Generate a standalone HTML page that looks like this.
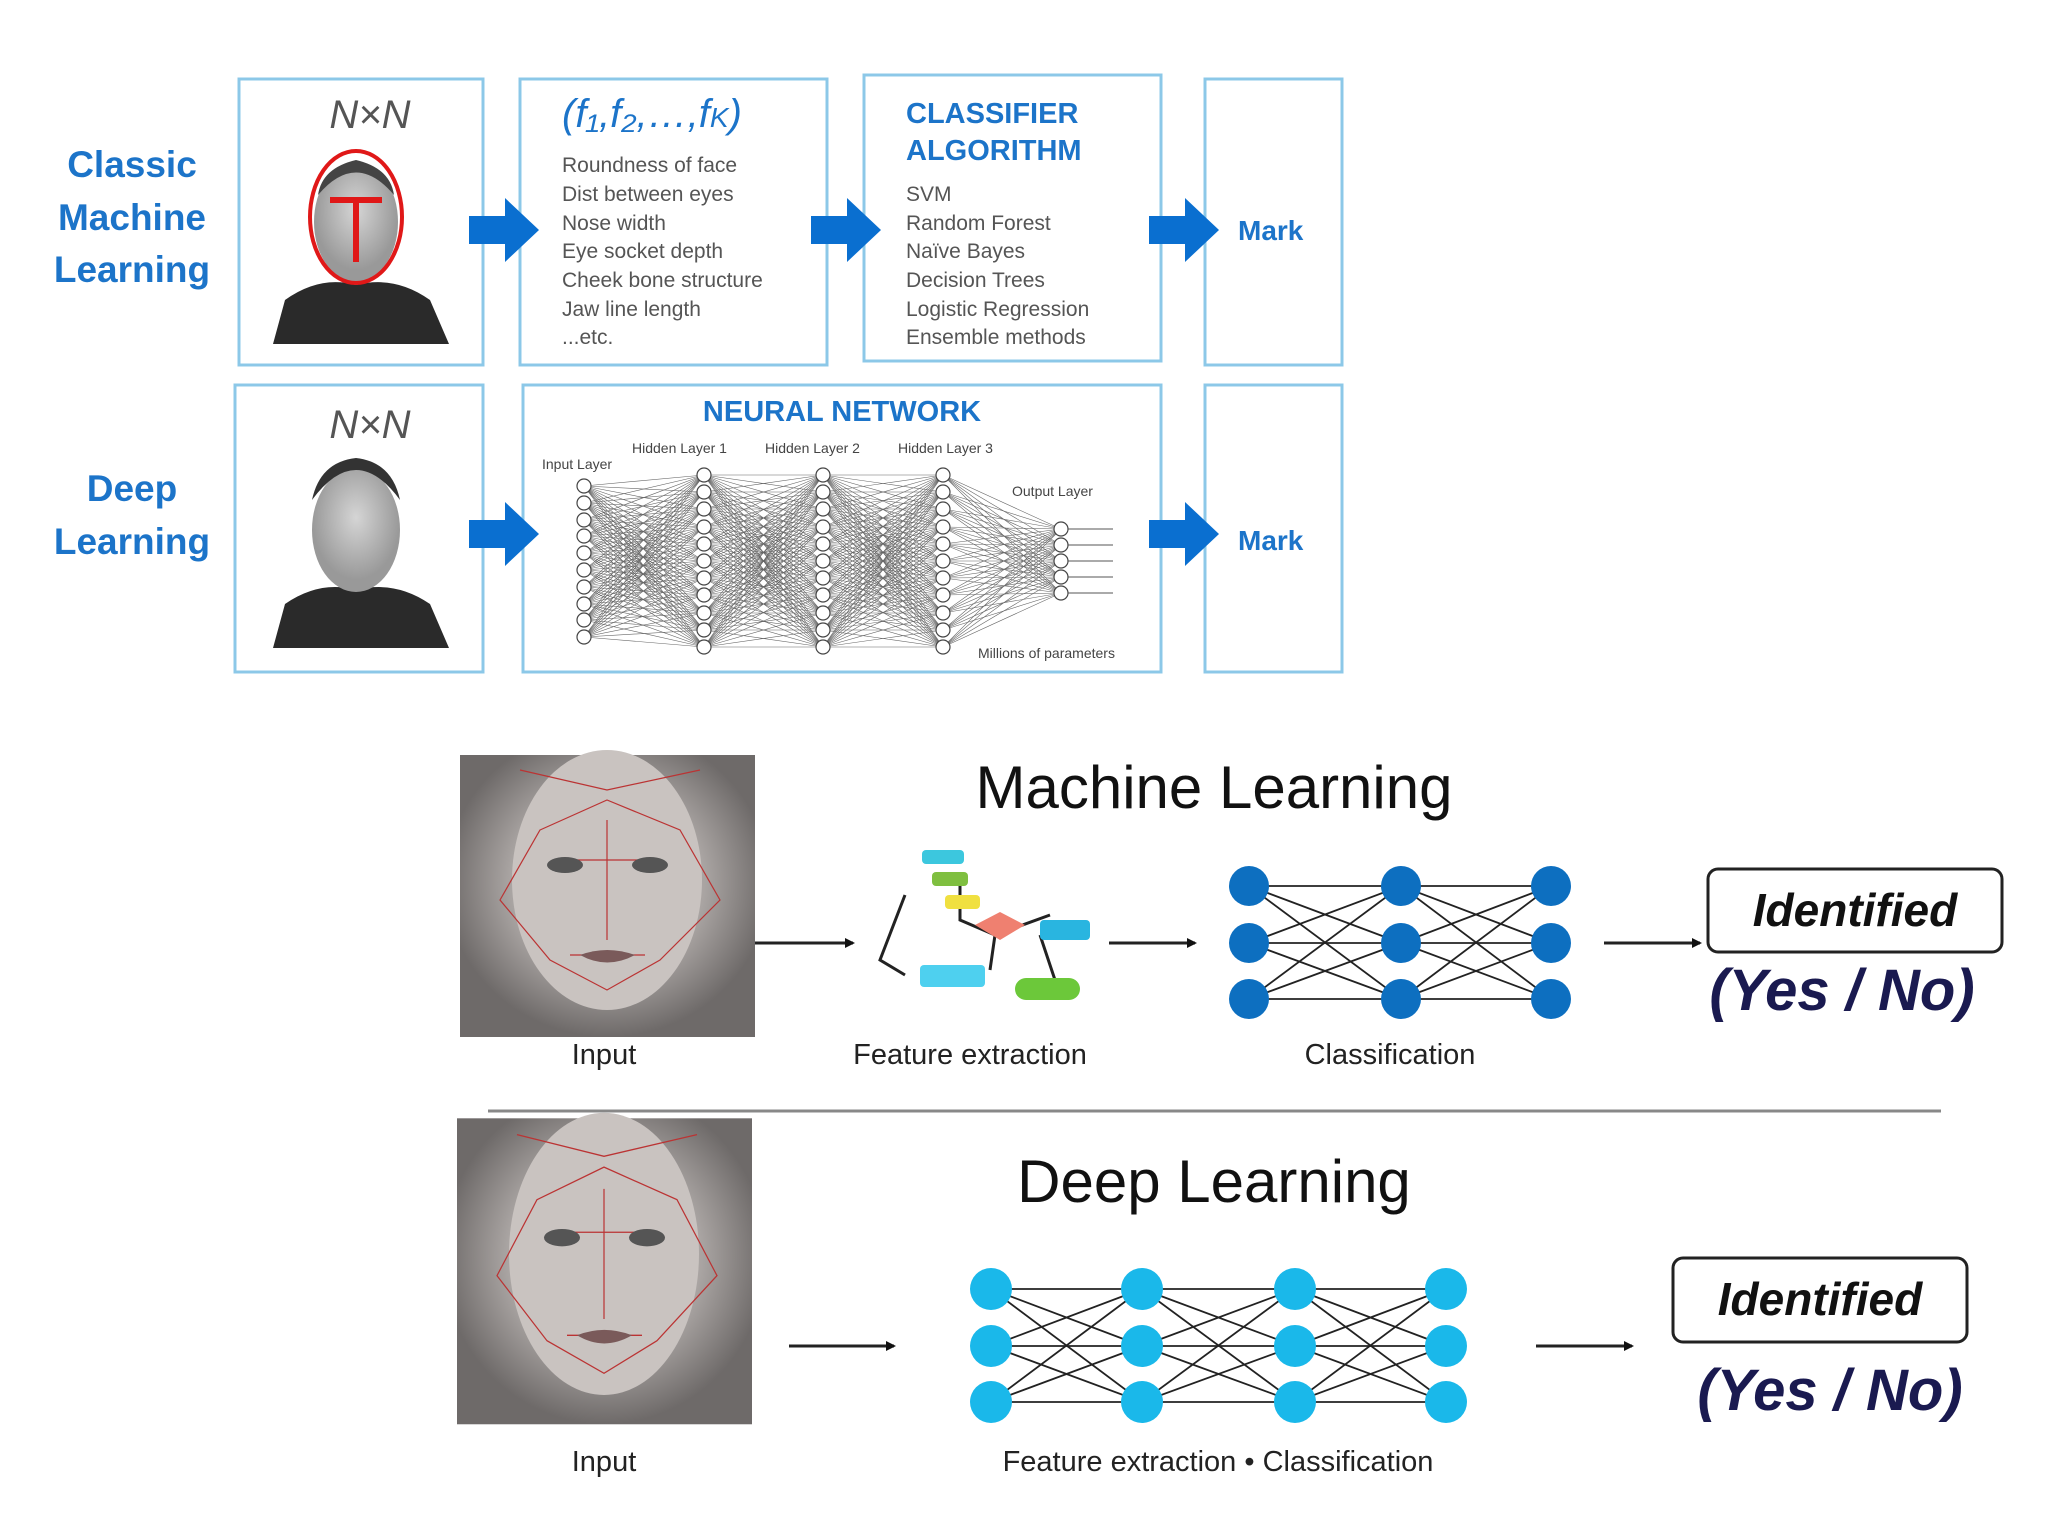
<!DOCTYPE html>
<html><head><meta charset="utf-8"><style>
html,body{margin:0;padding:0;background:#fff;width:2048px;height:1536px;overflow:hidden}
svg{display:block}
text{font-family:"Liberation Sans",sans-serif}
.f line{vector-effect:non-scaling-stroke}
</style></head><body>
<svg width="2048" height="1536" viewBox="0 0 2048 1536" xmlns="http://www.w3.org/2000/svg">
<defs>
<marker id="ah" markerWidth="10" markerHeight="10" refX="8" refY="5" orient="auto" markerUnits="userSpaceOnUse"><path d="M0,0 L10,5 L0,10 z" fill="#111"/></marker>
<radialGradient id="face" cx="50%" cy="45%" r="55%"><stop offset="0" stop-color="#d8d3d0"/><stop offset="0.6" stop-color="#a9a4a2"/><stop offset="1" stop-color="#6e6a69"/></radialGradient>
<radialGradient id="man" cx="50%" cy="40%" r="50%"><stop offset="0" stop-color="#d5d5d5"/><stop offset="1" stop-color="#999"/></radialGradient>
<g id="fanH" class="f" stroke="#666" stroke-width="0.6">
<line x1="0" y1="0" x2="1" y2="475"/><line x1="0" y1="0" x2="1" y2="492"/><line x1="0" y1="0" x2="1" y2="509"/><line x1="0" y1="0" x2="1" y2="527"/><line x1="0" y1="0" x2="1" y2="544"/><line x1="0" y1="0" x2="1" y2="561"/><line x1="0" y1="0" x2="1" y2="578"/><line x1="0" y1="0" x2="1" y2="595"/><line x1="0" y1="0" x2="1" y2="613"/><line x1="0" y1="0" x2="1" y2="630"/><line x1="0" y1="0" x2="1" y2="647"/>
</g>
<g id="fanO" class="f" stroke="#666" stroke-width="0.6">
<line x1="0" y1="0" x2="1" y2="529"/><line x1="0" y1="0" x2="1" y2="545"/><line x1="0" y1="0" x2="1" y2="561"/><line x1="0" y1="0" x2="1" y2="577"/><line x1="0" y1="0" x2="1" y2="593"/>
</g>
<g id="fanA" class="f" stroke="#222" stroke-width="1.8">
<line x1="0" y1="0" x2="1" y2="886"/><line x1="0" y1="0" x2="1" y2="943"/><line x1="0" y1="0" x2="1" y2="999"/>
</g>
<g id="fanB" class="f" stroke="#222" stroke-width="1.8">
<line x1="0" y1="0" x2="1" y2="1289"/><line x1="0" y1="0" x2="1" y2="1346"/><line x1="0" y1="0" x2="1" y2="1402"/>
</g>
<g id="colH" fill="#fff" stroke="#444" stroke-width="1.2">
<circle cx="0" cy="475" r="7"/><circle cx="0" cy="492" r="7"/><circle cx="0" cy="509" r="7"/><circle cx="0" cy="527" r="7"/><circle cx="0" cy="544" r="7"/><circle cx="0" cy="561" r="7"/><circle cx="0" cy="578" r="7"/><circle cx="0" cy="595" r="7"/><circle cx="0" cy="613" r="7"/><circle cx="0" cy="630" r="7"/><circle cx="0" cy="647" r="7"/>
</g>
</defs>
<g fill="none" stroke="#8cc8e8" stroke-width="3">
<rect x="239" y="79" width="244" height="286"/>
<rect x="520" y="79" width="307" height="286"/>
<rect x="864" y="75" width="297" height="286"/>
<rect x="1205" y="79" width="137" height="286"/>
<rect x="235" y="385" width="248" height="287"/>
<rect x="523" y="385" width="638" height="287"/>
<rect x="1205" y="385" width="137" height="287"/>
</g>
<g fill="#1c74c9" font-weight="bold" font-size="37" text-anchor="middle">
<text x="132" y="177">Classic</text><text x="132" y="230">Machine</text><text x="132" y="282">Learning</text>
<text x="132" y="501">Deep</text><text x="132" y="554">Learning</text>
</g>
<g fill="#0a6fd0">
<path d="M469,216 H505 V198 L539,230 L505,262 V244 H469 z"/>
<path d="M811,216 H847 V198 L881,230 L847,262 V244 H811 z"/>
<path d="M1149,216 H1185 V198 L1219,230 L1185,262 V244 H1149 z"/>
<path d="M469,520 H505 V502 L539,534 L505,566 V548 H469 z"/>
<path d="M1149,520 H1185 V502 L1219,534 L1185,566 V548 H1149 z"/>
</g>
<g fill="#1c74c9" font-weight="bold" font-size="28"><text x="1238" y="240">Mark</text><text x="1238" y="550">Mark</text></g>
<g font-family="Liberation Serif" font-style="italic" font-size="40" fill="#555" text-anchor="middle"><text x="370" y="128">N×N</text><text x="370" y="438">N×N</text></g>
<path d="M273,344 L285,300 Q320,275 356,285 Q395,275 430,300 L449,344 z" fill="#2a2a2a"/>
<ellipse cx="356" cy="222" rx="42" ry="60" fill="url(#man)"/>
<path d="M318,195 Q356,150 394,195 Q390,168 356,160 Q322,168 318,195z" fill="#444"/>
<ellipse cx="356" cy="217" rx="46" ry="66" fill="none" stroke="#e01818" stroke-width="4"/>
<path d="M330,200 H382 M356,200 V262" stroke="#e01818" stroke-width="6"/>
<path d="M273,648 L285,604 Q320,580 356,590 Q395,580 430,604 L449,648 z" fill="#2a2a2a"/>
<ellipse cx="356" cy="530" rx="44" ry="62" fill="url(#man)"/>
<path d="M312,500 Q356,440 400,500 Q392,462 356,458 Q320,462 312,500z" fill="#333"/>
<text x="562" y="127" font-family="Liberation Serif" font-style="italic" font-size="40" fill="#1c74c9">(f₁,f₂,…,f<tspan font-size="28">K</tspan>)</text>
<g font-size="21" fill="#555">
<text x="562" y="172">Roundness of face</text><text x="562" y="201">Dist between eyes</text><text x="562" y="230">Nose width</text><text x="562" y="258">Eye socket depth</text><text x="562" y="287">Cheek bone structure</text><text x="562" y="316">Jaw line length</text><text x="562" y="344">...etc.</text>
<text x="906" y="201">SVM</text><text x="906" y="230">Random Forest</text><text x="906" y="258">Naïve Bayes</text><text x="906" y="287">Decision Trees</text><text x="906" y="316">Logistic Regression</text><text x="906" y="344">Ensemble methods</text>
</g>
<g fill="#1c74c9" font-weight="bold" font-size="29"><text x="906" y="123">CLASSIFIER</text><text x="906" y="160">ALGORITHM</text>
<text x="842" y="421" text-anchor="middle">NEURAL NETWORK</text></g>
<use href="#fanH" transform="matrix(120,-486,0,1,584,486)"/><use href="#fanH" transform="matrix(120,-503,0,1,584,503)"/><use href="#fanH" transform="matrix(120,-520,0,1,584,520)"/><use href="#fanH" transform="matrix(120,-536,0,1,584,536)"/><use href="#fanH" transform="matrix(120,-553,0,1,584,553)"/><use href="#fanH" transform="matrix(120,-570,0,1,584,570)"/><use href="#fanH" transform="matrix(120,-587,0,1,584,587)"/><use href="#fanH" transform="matrix(120,-604,0,1,584,604)"/><use href="#fanH" transform="matrix(120,-620,0,1,584,620)"/><use href="#fanH" transform="matrix(120,-637,0,1,584,637)"/>
<use href="#fanH" transform="matrix(119,-475,0,1,704,475)"/><use href="#fanH" transform="matrix(119,-492,0,1,704,492)"/><use href="#fanH" transform="matrix(119,-509,0,1,704,509)"/><use href="#fanH" transform="matrix(119,-527,0,1,704,527)"/><use href="#fanH" transform="matrix(119,-544,0,1,704,544)"/><use href="#fanH" transform="matrix(119,-561,0,1,704,561)"/><use href="#fanH" transform="matrix(119,-578,0,1,704,578)"/><use href="#fanH" transform="matrix(119,-595,0,1,704,595)"/><use href="#fanH" transform="matrix(119,-613,0,1,704,613)"/><use href="#fanH" transform="matrix(119,-630,0,1,704,630)"/><use href="#fanH" transform="matrix(119,-647,0,1,704,647)"/>
<use href="#fanH" transform="matrix(120,-475,0,1,823,475)"/><use href="#fanH" transform="matrix(120,-492,0,1,823,492)"/><use href="#fanH" transform="matrix(120,-509,0,1,823,509)"/><use href="#fanH" transform="matrix(120,-527,0,1,823,527)"/><use href="#fanH" transform="matrix(120,-544,0,1,823,544)"/><use href="#fanH" transform="matrix(120,-561,0,1,823,561)"/><use href="#fanH" transform="matrix(120,-578,0,1,823,578)"/><use href="#fanH" transform="matrix(120,-595,0,1,823,595)"/><use href="#fanH" transform="matrix(120,-613,0,1,823,613)"/><use href="#fanH" transform="matrix(120,-630,0,1,823,630)"/><use href="#fanH" transform="matrix(120,-647,0,1,823,647)"/>
<use href="#fanO" transform="matrix(118,-475,0,1,943,475)"/><use href="#fanO" transform="matrix(118,-492,0,1,943,492)"/><use href="#fanO" transform="matrix(118,-509,0,1,943,509)"/><use href="#fanO" transform="matrix(118,-527,0,1,943,527)"/><use href="#fanO" transform="matrix(118,-544,0,1,943,544)"/><use href="#fanO" transform="matrix(118,-561,0,1,943,561)"/><use href="#fanO" transform="matrix(118,-578,0,1,943,578)"/><use href="#fanO" transform="matrix(118,-595,0,1,943,595)"/><use href="#fanO" transform="matrix(118,-613,0,1,943,613)"/><use href="#fanO" transform="matrix(118,-630,0,1,943,630)"/><use href="#fanO" transform="matrix(118,-647,0,1,943,647)"/>
<g stroke="#555" stroke-width="1"><line x1="1061" y1="529" x2="1113" y2="529"/><line x1="1061" y1="545" x2="1113" y2="545"/><line x1="1061" y1="561" x2="1113" y2="561"/><line x1="1061" y1="577" x2="1113" y2="577"/><line x1="1061" y1="593" x2="1113" y2="593"/></g>
<g fill="#fff" stroke="#444" stroke-width="1.2">
<circle cx="584" cy="486" r="7"/><circle cx="584" cy="503" r="7"/><circle cx="584" cy="520" r="7"/><circle cx="584" cy="536" r="7"/><circle cx="584" cy="553" r="7"/><circle cx="584" cy="570" r="7"/><circle cx="584" cy="587" r="7"/><circle cx="584" cy="604" r="7"/><circle cx="584" cy="620" r="7"/><circle cx="584" cy="637" r="7"/>
<circle cx="1061" cy="529" r="7"/><circle cx="1061" cy="545" r="7"/><circle cx="1061" cy="561" r="7"/><circle cx="1061" cy="577" r="7"/><circle cx="1061" cy="593" r="7"/>
</g>
<use href="#colH" x="704"/><use href="#colH" x="823"/><use href="#colH" x="943"/>
<g font-size="14" fill="#444"><text x="542" y="469">Input Layer</text><text x="632" y="453">Hidden Layer 1</text><text x="765" y="453">Hidden Layer 2</text><text x="898" y="453">Hidden Layer 3</text><text x="1012" y="496">Output Layer</text><text x="978" y="658">Millions of parameters</text></g>
<g id="p1"><rect x="460" y="755" width="295" height="282" fill="url(#face)"/>
<ellipse cx="607" cy="880" rx="95" ry="130" fill="#c9c3c0"/>
<path d="M520,770 L607,790 L700,770 M540,830 L607,800 L680,830 L720,900 L660,960 L607,990 L550,960 L500,900 z M560,860 L650,860 M607,820 L607,940 M570,955 L645,955" stroke="#b33" stroke-width="1.2" fill="none"/>
<ellipse cx="565" cy="865" rx="18" ry="8" fill="#555"/><ellipse cx="650" cy="865" rx="18" ry="8" fill="#555"/>
<path d="M580,955 Q607,945 635,955 Q607,970 580,955z" fill="#7a5a5a"/></g>
<use href="#p1" transform="translate(-3,374) scale(1,1.085) translate(0,-69)"/>
<g font-size="29" fill="#222" text-anchor="middle">
<text x="604" y="1064">Input</text><text x="970" y="1064">Feature extraction</text><text x="1390" y="1064">Classification</text>
<text x="604" y="1471">Input</text><text x="1218" y="1471">Feature extraction • Classification</text></g>
<g font-size="60" fill="#111" text-anchor="middle"><text x="1214" y="808">Machine Learning</text><text x="1214" y="1202">Deep Learning</text></g>
<g stroke="#222" stroke-width="3" marker-end="url(#ah)">
<line x1="755" y1="943" x2="853" y2="943"/><line x1="1109" y1="943" x2="1195" y2="943"/><line x1="1604" y1="943" x2="1700" y2="943"/>
<line x1="789" y1="1346" x2="894" y2="1346"/><line x1="1536" y1="1346" x2="1632" y2="1346"/></g>
<line x1="488" y1="1111" x2="1941" y2="1111" stroke="#888" stroke-width="3"/>
<g stroke="#222" stroke-width="3" fill="none"><path d="M905,895 L880,960 L905,975 M960,880 L960,920 L995,935 L1050,915 M995,935 L990,970 M1040,935 L1055,980"/></g>
<rect x="922" y="850" width="42" height="14" rx="4" fill="#3cc7de"/><rect x="932" y="872" width="36" height="14" rx="4" fill="#7fbf40"/><rect x="945" y="895" width="35" height="14" rx="4" fill="#f0e040"/>
<path d="M975,925 L1000,912 L1025,925 L1000,940z" fill="#ef8070"/><rect x="1040" y="920" width="50" height="20" rx="4" fill="#29b5e0"/><rect x="920" y="965" width="65" height="22" rx="4" fill="#4ed0ef"/><rect x="1015" y="978" width="65" height="22" rx="11" fill="#6cc83a"/>
<use href="#fanA" transform="matrix(152,-886,0,1,1249,886)"/><use href="#fanA" transform="matrix(152,-943,0,1,1249,943)"/><use href="#fanA" transform="matrix(152,-999,0,1,1249,999)"/>
<use href="#fanA" transform="matrix(150,-886,0,1,1401,886)"/><use href="#fanA" transform="matrix(150,-943,0,1,1401,943)"/><use href="#fanA" transform="matrix(150,-999,0,1,1401,999)"/>
<g fill="#0d6fc0"><circle cx="1249" cy="886" r="20"/><circle cx="1249" cy="943" r="20"/><circle cx="1249" cy="999" r="20"/><circle cx="1401" cy="886" r="20"/><circle cx="1401" cy="943" r="20"/><circle cx="1401" cy="999" r="20"/><circle cx="1551" cy="886" r="20"/><circle cx="1551" cy="943" r="20"/><circle cx="1551" cy="999" r="20"/></g>
<use href="#fanB" transform="matrix(151,-1289,0,1,991,1289)"/><use href="#fanB" transform="matrix(151,-1346,0,1,991,1346)"/><use href="#fanB" transform="matrix(151,-1402,0,1,991,1402)"/>
<use href="#fanB" transform="matrix(153,-1289,0,1,1142,1289)"/><use href="#fanB" transform="matrix(153,-1346,0,1,1142,1346)"/><use href="#fanB" transform="matrix(153,-1402,0,1,1142,1402)"/>
<use href="#fanB" transform="matrix(151,-1289,0,1,1295,1289)"/><use href="#fanB" transform="matrix(151,-1346,0,1,1295,1346)"/><use href="#fanB" transform="matrix(151,-1402,0,1,1295,1402)"/>
<g fill="#1ab8ea"><circle cx="991" cy="1289" r="21"/><circle cx="991" cy="1346" r="21"/><circle cx="991" cy="1402" r="21"/><circle cx="1142" cy="1289" r="21"/><circle cx="1142" cy="1346" r="21"/><circle cx="1142" cy="1402" r="21"/><circle cx="1295" cy="1289" r="21"/><circle cx="1295" cy="1346" r="21"/><circle cx="1295" cy="1402" r="21"/><circle cx="1446" cy="1289" r="21"/><circle cx="1446" cy="1346" r="21"/><circle cx="1446" cy="1402" r="21"/></g>
<g fill="#fff" stroke="#222" stroke-width="3"><rect x="1708" y="869" width="294" height="83" rx="10"/><rect x="1673" y="1258" width="294" height="84" rx="10"/></g>
<g font-weight="bold" font-style="italic" text-anchor="middle" fill="#111" font-size="46"><text x="1855" y="926">Identified</text><text x="1820" y="1315">Identified</text></g>
<g font-weight="bold" font-style="italic" text-anchor="middle" fill="#1a1a50" font-size="58"><text x="1842" y="1010">(Yes / No)</text><text x="1830" y="1410">(Yes / No)</text></g>
</svg>
</body></html>
